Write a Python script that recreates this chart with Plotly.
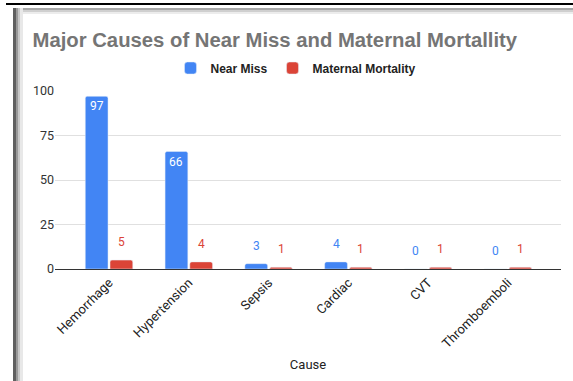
import plotly.graph_objects as go

# ---- data ----
causes = ["Hemorrhage", "Hypertension", "Sepsis", "Cardiac", "CVT", "Thromboemboli"]
near_miss = [97, 66, 3, 4, 0, 0]
maternal_mortality = [5, 4, 1, 1, 1, 1]
y_ticks = [0, 25, 50, 75, 100]

BLUE = "#4285F4"
RED = "#DB4437"
W, H = 573, 381
ML, MR, MT, MB = 55, 12, 91, 112
PW, PH = W - ML - MR, H - MT - MB


def px2x(px):
    return (px - ML) / PW


def py2y(py):
    return (H - MB - py) / PH


fig = go.Figure()
fig.add_trace(go.Bar(name="Near Miss", x=causes, y=near_miss, marker_color=BLUE))
fig.add_trace(go.Bar(name="Maternal Mortality", x=causes, y=maternal_mortality, marker_color=RED))

# data labels
annotations = []
for vals, color, shift in ((near_miss, BLUE, -12.4), (maternal_mortality, RED, 12.4)):
    for c, v in zip(causes, vals):
        inside = v > 10
        annotations.append(dict(
            x=c, y=v, xref="x", yref="y", text=str(v), showarrow=False,
            xshift=shift, yshift=-10 if inside else 18, yanchor="middle",
            font=dict(family="Roboto", size=12, color="white" if inside else color),
        ))

# frame decorations (screenshot border)
shapes = [
    dict(type="rect", xref="paper", yref="paper", x0=px2x(6), x1=px2x(573), y0=py2y(5), y1=py2y(3),
         fillcolor="black", line_width=0),
    dict(type="rect", xref="paper", yref="paper", x0=px2x(16), x1=px2x(573), y0=py2y(10), y1=py2y(8),
         fillcolor="#a8a8a8", line_width=0),
    dict(type="rect", xref="paper", yref="paper", x0=px2x(16), x1=px2x(573), y0=py2y(12), y1=py2y(10),
         fillcolor="#cfcfcf", line_width=0),
    dict(type="rect", xref="paper", yref="paper", x0=px2x(16), x1=px2x(573), y0=py2y(14), y1=py2y(12),
         fillcolor="#ececec", line_width=0),
    dict(type="rect", xref="paper", yref="paper", x0=px2x(13), x1=px2x(16), y0=py2y(381), y1=py2y(8),
         fillcolor="#606060", line_width=0),
    dict(type="rect", xref="paper", yref="paper", x0=px2x(16), x1=px2x(18), y0=py2y(381), y1=py2y(8),
         fillcolor="#9a9a9a", line_width=0),
    dict(type="rect", xref="paper", yref="paper", x0=px2x(18), x1=px2x(20), y0=py2y(381), y1=py2y(8),
         fillcolor="#c8c8c8", line_width=0),
    dict(type="rect", xref="paper", yref="paper", x0=px2x(20), x1=px2x(23), y0=py2y(381), y1=py2y(8),
         fillcolor="#e8e8e8", line_width=0),
]

fig.update_layout(
    width=W, height=H,
    margin=dict(l=ML, r=MR, t=MT, b=MB, autoexpand=False),
    paper_bgcolor="white", plot_bgcolor="white",
    barmode="group", bargap=0.38, bargroupgap=0.08, barcornerradius=2,
    title=dict(text="<b>Major Causes of Near Miss and Maternal Mortallity</b>",
               font=dict(family="Liberation Sans, Arial", size=20.3, color="#757575"),
               xref="container", x=32.5 / W, xanchor="left",
               yref="container", y=1 - 39.5 / H, yanchor="middle"),
    legend=dict(orientation="h", x=px2x(296), xanchor="center", y=py2y(68), yanchor="middle",
                font=dict(family="Liberation Sans, Arial", size=12, color="#222222", weight="bold"),
                bgcolor="rgba(0,0,0,0)"),
    xaxis=dict(range=[-0.677, 5.664], tickangle=-45, showline=True, linecolor="#333333", linewidth=1,
               showgrid=False, ticks="",
               tickfont=dict(family="Roboto", size=13, color="#222222"),
               title=dict(text="Cause", font=dict(family="Roboto", size=13, color="#222222"), standoff=9)),
    yaxis=dict(range=[0, 100], tickvals=y_ticks, showgrid=True, gridcolor="#e0e0e0", zeroline=False,
               ticks="", tickfont=dict(family="Roboto", size=12.5, color="#333333"), fixedrange=True),
    annotations=annotations,
    shapes=shapes,
    showlegend=True,
)

fig.write_html("out.html")
